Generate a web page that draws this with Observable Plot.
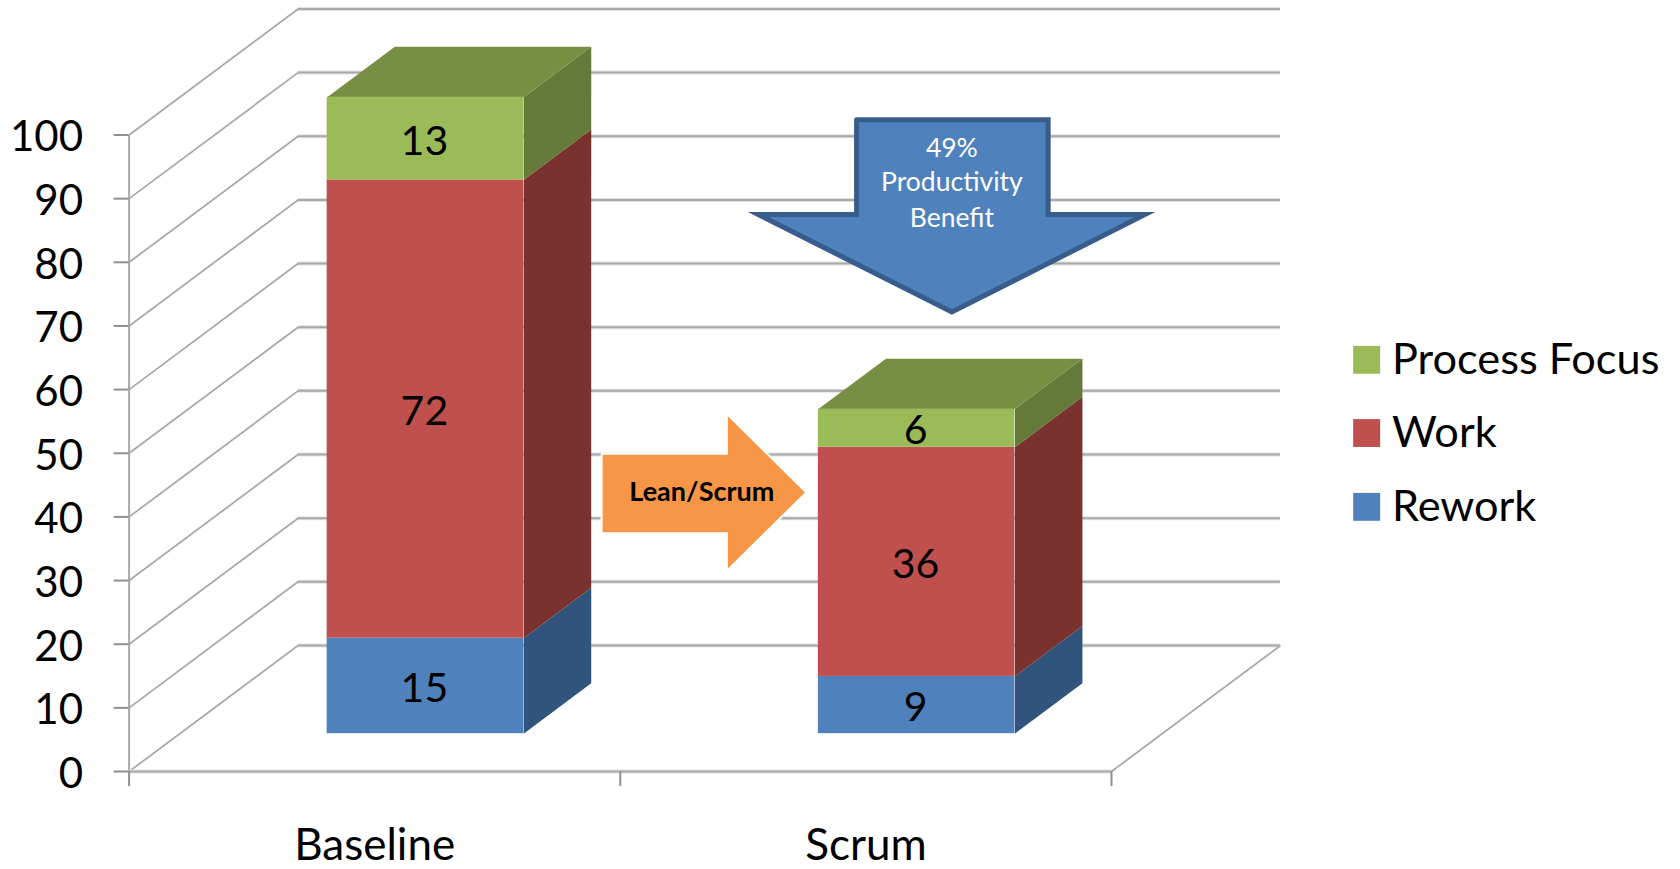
<!DOCTYPE html>
<html>
<head>
<meta charset="utf-8">
<script src="https://cdn.jsdelivr.net/npm/d3@7"></script>
<script src="https://cdn.jsdelivr.net/npm/@observablehq/plot@0.6"></script>
<style>
  html, body { margin: 0; padding: 0; background: #fff; }
  svg { display: block; }
</style>
</head>
<body>
<div id="chart"></div>
<script>
// Effort per category, bottom to top of each stack.
const categories = ["Baseline", "Scrum"];
const seriesNames = ["Rework", "Work", "Process Focus"];
const rework = [15, 9];
const work = [72, 36];
const processFocus = [13, 6];
const yTicks = [0, 10, 20, 30, 40, 50, 60, 70, 80, 90, 100];

// Face colours per series: front, side, top.
const frontColors = ["#4f81bd", "#c0504d", "#9bbb59"];
const sideColors = ["#31547c", "#7a322f", "#657a39"];
const topColor = "#778f43";

// Oblique projection: one unit of depth moves a point this far in scale units.
const DX = 0.344, DY = 19.8;
const barHalf = 0.2, depthFront = 0.3, depthBack = 0.7;
const project = (i, side, value, depth) => ({
  x: i + 0.5 + side * barHalf + depth * DX,
  y: value + depth * DY
});

const seriesValues = [rework, work, processFocus];
const segments = categories.flatMap((category, i) => {
  let base = 0;
  return seriesValues.map((values, s) => {
    const seg = {category, i, s, y1: base, y2: base + values[i], value: values[i]};
    base += values[i];
    return seg;
  });
});

const sideFaces = segments.flatMap((g) => [
  project(g.i, 1, g.y1, depthFront), project(g.i, 1, g.y1, depthBack),
  project(g.i, 1, g.y2, depthBack), project(g.i, 1, g.y2, depthFront)
].map((p) => ({...p, id: `${g.i}-${g.s}`, fill: sideColors[g.s]})));

const topFaces = categories.flatMap((c, i) => {
  const h = rework[i] + work[i] + processFocus[i];
  return [
    project(i, -1, h, depthFront), project(i, -1, h, depthBack),
    project(i, 1, h, depthBack), project(i, 1, h, depthFront)
  ].map((p) => ({...p, id: c}));
});

// Callout arrows, in scale units.
const orangeArrow = [[0.964, 49.75], [1.219, 49.75], [1.219, 55.8], [1.376, 43.85], [1.219, 31.9], [1.219, 37.6], [0.964, 37.6], [0.964, 49.75]];
const blueArrow = [[1.481, 102.4], [1.871, 102.4], [1.871, 87.5], [2.068, 87.5], [1.675, 72.2], [1.281, 87.5], [1.481, 87.5], [1.481, 102.4]];
const blueLines = [["49%", 97.9], ["Productivity", 92.5], ["Benefit", 86.85]];

// Legend entries, top to bottom.
const legendOrder = [2, 1, 0];
const legendRows = [64.6, 53.1, 41.5];

const gridMain = "#a9a9a9", gridSoft = "#e2e2e2";

const plot = Plot.plot({
  width: 1680,
  height: 869,
  marginLeft: 128.6,
  marginRight: 569,
  marginTop: 134.5,
  marginBottom: 98,
  style: {fontFamily: "Lato, sans-serif", background: "#fff", color: "#000"},
  x: {type: "linear", domain: [0, 2]},
  y: {domain: [0, 100]},
  marks: [
    // Back wall and side wall of the chart box
    Plot.ruleY(yTicks, {y: (d) => d + DY, x1: DX, x2: 2 + DX, stroke: gridSoft, strokeWidth: 4}),
    Plot.ruleY(yTicks, {y: (d) => d + DY, x1: DX, x2: 2 + DX, stroke: gridMain, strokeWidth: 2}),
    Plot.link(yTicks, {x1: 0, y1: (d) => d, x2: DX, y2: (d) => d + DY, stroke: gridMain, strokeWidth: 1.8}),
    Plot.link([0], {x1: 2, y1: 0, x2: 2 + DX, y2: DY, stroke: gridMain, strokeWidth: 1.8}),
    Plot.ruleX([0], {y1: 0, y2: 100, stroke: gridMain, strokeWidth: 2}),
    Plot.ruleY([0], {x1: 0, x2: 2, stroke: gridSoft, strokeWidth: 4}),
    Plot.ruleY([0], {x1: 0, x2: 2, stroke: gridMain, strokeWidth: 2}),

    // Axis ticks and labels
    Plot.axisY({ticks: yTicks, tickSize: 15, tickFormat: () => "", stroke: "#8f8f8f", strokeWidth: 2, label: null}),
    Plot.axisY({ticks: yTicks, tickSize: 0, tickPadding: 46, dy: 3, fontSize: 42, label: null, fill: "#000"}),
    Plot.axisX({ticks: [0, 1, 2], tickSize: 15, tickFormat: () => "", stroke: "#8f8f8f", strokeWidth: 2, label: null}),
    Plot.axisX({ticks: [0.5, 1.5], tickSize: 0, tickPadding: 57, fontSize: 44, tickFormat: (d) => categories[Math.floor(d)], label: null, fill: "#000"}),

    // Bars: side faces, top faces, then front faces
    Plot.line(sideFaces, {x: "x", y: "y", z: "id", fill: "fill", stroke: null, curve: "linear"}),
    Plot.line(topFaces, {x: "x", y: "y", z: "id", fill: topColor, stroke: null, curve: "linear"}),
    Plot.rect(segments, {
      x1: (d) => project(d.i, -1, d.y1, depthFront).x,
      x2: (d) => project(d.i, 1, d.y1, depthFront).x,
      y1: (d) => project(d.i, 1, d.y1, depthFront).y,
      y2: (d) => project(d.i, 1, d.y2, depthFront).y,
      fill: (d) => frontColors[d.s]
    }),
    Plot.text(segments, {
      x: (d) => project(d.i, 0, 0, depthFront).x,
      y: (d) => project(d.i, 0, (d.y1 + d.y2) / 2, depthFront).y,
      text: "value",
      fontSize: 41,
      dy: 3,
      dx: -1,
      fill: "#000"
    }),

    // Callout arrows
    Plot.line(orangeArrow, {x: "0", y: "1", fill: "#f79646", stroke: "#fff", strokeWidth: 4, strokeLinejoin: "miter", paintOrder: "stroke", curve: "linear"}),
    Plot.text(["Lean/Scrum"], {x: 1.166, y: 43.85, fontSize: 27, fontWeight: 700, fill: "#000"}),
    Plot.line(blueArrow, {x: "0", y: "1", fill: "#4f81bd", stroke: "#385d8a", strokeWidth: 5, strokeLinejoin: "miter", strokeMiterlimit: 10, curve: "linear"}),
    Plot.text(blueLines, {x: 1.675, y: "1", text: "0", fontSize: 26.5, fill: "#fff"}),

    // Legend
    Plot.rect(legendOrder, {
      x1: 2.493,
      x2: 2.548,
      y1: (d, i) => legendRows[i] - 2.19,
      y2: (d, i) => legendRows[i] + 2.19,
      fill: (d) => frontColors[d]
    }),
    Plot.text(legendOrder, {
      x: 2.571,
      y: (d, i) => legendRows[i],
      text: (d) => seriesNames[d],
      textAnchor: "start",
      fontSize: 43.3,
      fill: "#000"
    })
  ]
});
document.getElementById("chart").append(plot);
</script>
</body>
</html>
